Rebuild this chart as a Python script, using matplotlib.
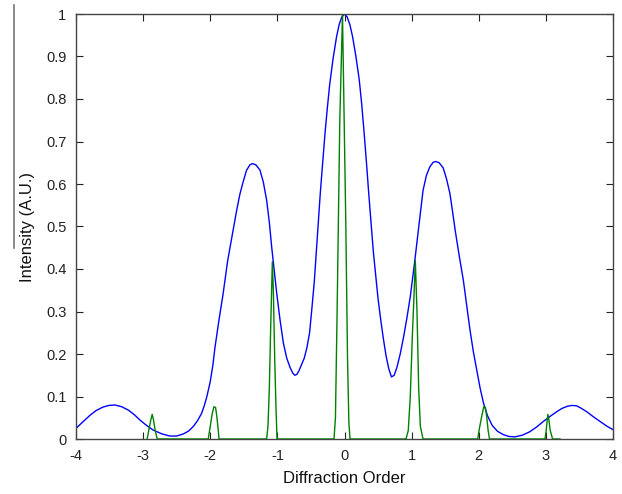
import matplotlib
matplotlib.use("Agg")
import matplotlib.pyplot as plt
from matplotlib.lines import Line2D

plt.rcParams['font.family'] = ['Liberation Sans', 'DejaVu Sans']

# Blue curve (envelope)
blue_x = [-4.0, -3.9, -3.79, -3.7, -3.6, -3.51, -3.42, -3.32, -3.22, -3.13,
          -3.05, -2.95, -2.85, -2.72, -2.6, -2.5, -2.4, -2.32, -2.25, -2.19,
          -2.13, -2.09, -2.05, -2.0, -1.96, -1.93, -1.87, -1.81, -1.74, -1.66,
          -1.61, -1.56, -1.51, -1.46, -1.41, -1.37, -1.32, -1.26, -1.21, -1.16,
          -1.12, -1.085, -1.05, -1.01, -0.96, -0.91, -0.86, -0.81, -0.77, -0.74,
          -0.71, -0.68, -0.64, -0.60, -0.56, -0.52, -0.49, -0.45, -0.42, -0.39,
          -0.36, -0.325, -0.29, -0.255, -0.22, -0.17, -0.12, -0.08, -0.04, 0.0,
          0.04, 0.08, 0.12, 0.17, 0.22, 0.255, 0.29, 0.325, 0.36, 0.395,
          0.43, 0.465, 0.50, 0.54, 0.58, 0.62, 0.66, 0.70, 0.74, 0.78,
          0.83, 0.88, 0.93, 0.98, 1.04, 1.10, 1.14, 1.17, 1.22, 1.27,
          1.32, 1.36, 1.41, 1.47, 1.52, 1.57, 1.61, 1.65, 1.71, 1.77,
          1.82, 1.87, 1.92, 1.97, 2.02, 2.07, 2.13, 2.20, 2.28, 2.37,
          2.45, 2.54, 2.65, 2.76, 2.86, 2.96, 3.06, 3.16, 3.24, 3.32,
          3.39, 3.46, 3.53, 3.61, 3.71, 3.81, 3.91, 4.0]
blue_y = [0.025, 0.04, 0.056, 0.067, 0.075, 0.079, 0.080, 0.076, 0.068, 0.057,
          0.045, 0.032, 0.021, 0.012, 0.007, 0.007, 0.012, 0.019, 0.030, 0.043,
          0.060, 0.078, 0.100, 0.135, 0.175, 0.215, 0.28, 0.34, 0.42, 0.49,
          0.535, 0.575, 0.605, 0.632, 0.645, 0.648, 0.645, 0.633, 0.605, 0.562,
          0.51, 0.452, 0.40, 0.343, 0.28, 0.225, 0.19, 0.168, 0.155, 0.150,
          0.152, 0.16, 0.175, 0.19, 0.215, 0.25, 0.30, 0.37, 0.44, 0.51,
          0.58, 0.65, 0.72, 0.78, 0.835, 0.895, 0.945, 0.975, 0.993, 1.0,
          0.993, 0.975, 0.947, 0.90, 0.845, 0.79, 0.725, 0.655, 0.58, 0.51,
          0.44, 0.385, 0.33, 0.28, 0.235, 0.195, 0.165, 0.146, 0.15, 0.168,
          0.20, 0.24, 0.285, 0.335, 0.41, 0.49, 0.545, 0.585, 0.62, 0.64,
          0.651, 0.653, 0.65, 0.638, 0.612, 0.578, 0.535, 0.49, 0.43, 0.374,
          0.315, 0.256, 0.205, 0.162, 0.12, 0.085, 0.055, 0.032, 0.018, 0.010,
          0.006, 0.005, 0.009, 0.017, 0.028, 0.041, 0.053, 0.064, 0.072, 0.077,
          0.079, 0.078, 0.072, 0.064, 0.052, 0.041, 0.030, 0.022]
assert len(blue_x) == len(blue_y)

# Green curve (narrow diffraction peaks)
green_x = [-2.94, -2.91, -2.885, -2.865, -2.845, -2.82, -2.79,
           -2.03, -2.0, -1.97, -1.945, -1.92, -1.9, -1.88, -1.87,
           -1.16, -1.14, -1.12, -1.10, -1.075, -1.06, -1.04, -1.02, -1.005,
           -0.156, -0.135, -0.11, -0.07, -0.03, -0.01, 0.02, 0.045, 0.065, 0.082,
           0.916, 0.95, 0.98, 1.01, 1.035, 1.055, 1.08, 1.105, 1.13, 1.17,
           1.984, 2.01, 2.04, 2.075, 2.1, 2.12, 2.14, 2.16,
           2.987, 3.005, 3.02, 3.03, 3.045, 3.065, 3.1,
           3.21]
green_y = [0.0, 0.025, 0.045, 0.058, 0.045, 0.02, 0.0,
           0.0, 0.03, 0.06, 0.076, 0.074, 0.05, 0.02, 0.0,
           0.0, 0.03, 0.12, 0.26, 0.417, 0.35, 0.19, 0.07, 0.0,
           0.0, 0.05, 0.3, 0.75, 1.0, 0.8, 0.5, 0.19, 0.04, 0.0,
           0.0, 0.02, 0.1, 0.24, 0.335, 0.42, 0.30, 0.12, 0.03, 0.0,
           0.0, 0.025, 0.05, 0.076, 0.074, 0.05, 0.02, 0.0,
           0.0, 0.02, 0.045, 0.058, 0.045, 0.02, 0.0,
           0.0]
assert len(green_x) == len(green_y)

x_ticks = [-4, -3, -2, -1, 0, 1, 2, 3, 4]
y_ticks = [0, 0.1, 0.2, 0.3, 0.4, 0.5, 0.6, 0.7, 0.8, 0.9, 1]
y_tick_labels = ['0', '0.1', '0.2', '0.3', '0.4', '0.5', '0.6', '0.7', '0.8', '0.9', '1']

fig = plt.figure(figsize=(6.22, 4.94), dpi=100)
ax = fig.add_axes([76/622, 55/494, 537/622, 425/494])

ax.plot(blue_x, blue_y, color='#0000ff', lw=1.0, zorder=2)
ax.plot(green_x, green_y, color='#008000', lw=1.0, zorder=3)

ax.set_xlim(-4, 4)
ax.set_ylim(0, 1)
ax.set_xticks(x_ticks)
ax.set_xticklabels([str(t) for t in x_ticks])
ax.set_yticks(y_ticks)
ax.set_yticklabels(y_tick_labels)
ax.tick_params(direction='in', top=True, right=True, length=5, width=0.8,
               labelsize=10.5, colors='#222222', pad=7)
for s in ax.spines.values():
    s.set_color('#444444')
    s.set_linewidth(1.0)

ax.set_xlabel('Diffraction Order', fontsize=12, color='#111111', labelpad=6)
ax.set_ylabel('Intensity (A.U.)', fontsize=12, color='#111111', labelpad=8)

# gray vertical artifact line at left margin
fig.add_artist(Line2D([14/622, 14/622], [1 - 5/494, 1 - 248/494],
                      transform=fig.transFigure, color='#777777', lw=1.2))

fig.savefig('out.png', dpi=100)
